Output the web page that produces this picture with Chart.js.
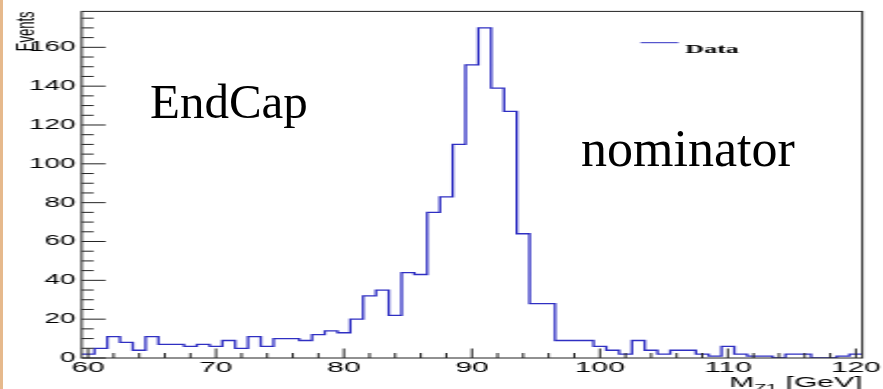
<!DOCTYPE html>
<html lang="en">
<head>
  <meta charset="UTF-8">
  <title>EndCap nominator - M_Z1</title>
  <script src="https://cdn.jsdelivr.net/npm/chart.js"></script>
  <style>
    body {
      margin: 0;
      width: 883px;
      height: 389px;
      overflow: hidden;
      background: #fff;
      position: relative;
    }
    .stripe {
      position: absolute;
      left: 0;
      top: 0;
      width: 3px;
      height: 389px;
      background: #e6b98c;
    }
    /* the original plot is a ROOT canvas stretched about 2x sideways */
    .plot-wrap {
      position: absolute;
      left: 0;
      top: 0;
      width: 442px;
      height: 389px;
      transform: scaleX(1.9977);
      transform-origin: 0 0;
    }
    .note {
      position: absolute;
      font-family: "Liberation Serif", serif;
      line-height: 1;
      color: #000;
      white-space: nowrap;
    }
  </style>
</head>
<body>
  <div class="plot-wrap">
    <canvas id="mzChart"></canvas>
  </div>
  <div class="stripe"></div>
  <div class="note" style="left:150px; top:77px; font-size:49px;">EndCap</div>
  <div class="note" style="left:581px; top:123px; font-size:52px;">nominator</div>

  <script>
    // bin centres (GeV) and entries per 1 GeV bin
    const massBins = [
      60, 61, 62, 63, 64, 65, 66, 67, 68, 69,
      70, 71, 72, 73, 74, 75, 76, 77, 78, 79,
      80, 81, 82, 83, 84, 85, 86, 87, 88, 89,
      90, 91, 92, 93, 94, 95, 96, 97, 98, 99,
      100, 101, 102, 103, 104, 105, 106, 107, 108, 109,
      110, 111, 112, 113, 114, 115, 116, 117, 118, 119,
      120
    ];
    const eventCounts = [
      2, 5, 11, 8, 4, 11, 7, 7, 6, 7,
      6, 9, 5, 11, 6, 10, 10, 9, 12, 14,
      13, 20, 32, 35, 22, 44, 43, 75, 83, 110,
      151, 170, 139, 127, 64, 28, 28, 9, 9, 9,
      6, 4, 2, 9, 4, 2, 4, 4, 2, 1,
      6, 2, 1, 1, 0, 2, 2, 0, 0, 1,
      2
    ];
    const seriesLabel = 'Data';
    const xRange = [59.5, 120.5];
    const yRange = [0, 178.5];
    const xMajor = 10, xMinor = 2;
    const yMajor = 20, yMinor = 5;
    const yTitle = 'Events';
    const xTitleParts = ['M', 'Z1', ' [GeV]']; // main, subscript, rest

    // histogram outline: one point per lower bin edge, plus the last upper edge
    const halfBin = (massBins[1] - massBins[0]) / 2;
    const histPoints = massBins.map((m, i) => ({ x: m - halfBin, y: eventCounts[i] }));
    histPoints.push({ x: massBins[massBins.length - 1] + halfBin, y: eventCounts[eventCounts.length - 1] });

    const frameColor = '#222';

    // ROOT style frame, inward tick marks, legend box and x title
    const rootFrame = {
      id: 'rootFrame',
      afterDatasetsDraw(chart) {
        const { ctx, chartArea: a, scales } = chart;
        ctx.save();
        ctx.strokeStyle = frameColor;
        ctx.lineWidth = 1;
        ctx.strokeRect(a.left, a.top, a.right - a.left, a.bottom - a.top);

        ctx.beginPath();
        scales.y.ticks.forEach(t => {
          const py = scales.y.getPixelForValue(t.value);
          const len = t.value % yMajor === 0 ? 12 : 6;
          ctx.moveTo(a.left, py);
          ctx.lineTo(a.left + len, py);
        });
        scales.x.ticks.forEach(t => {
          const px = scales.x.getPixelForValue(t.value);
          const len = t.value % xMajor === 0 ? 9.5 : 5;
          ctx.moveTo(px, a.bottom);
          ctx.lineTo(px, a.bottom - len);
        });
        ctx.stroke();

        // legend entry
        const ds = chart.data.datasets[0];
        ctx.strokeStyle = ds.borderColor;
        ctx.lineWidth = 1;
        ctx.beginPath();
        ctx.moveTo(a.right - 111, 42.7);
        ctx.lineTo(a.right - 92, 42.7);
        ctx.stroke();
        ctx.fillStyle = '#000';
        ctx.font = 'bold 13px "Liberation Serif"';
        ctx.textBaseline = 'alphabetic';
        ctx.textAlign = 'left';
        ctx.fillText(ds.label, a.right - 88.5, 53);

        // x axis title with subscript, right aligned to the frame
        const mainFont = '15px "Liberation Sans"';
        const subFont = '10px "Liberation Sans"';
        ctx.font = mainFont;
        const w0 = ctx.measureText(xTitleParts[0]).width;
        const w2 = ctx.measureText(xTitleParts[2]).width;
        ctx.font = subFont;
        const w1 = ctx.measureText(xTitleParts[1]).width;
        let tx = a.right - (w0 + w1 + w2);
        const base = 387;
        ctx.font = mainFont;
        ctx.fillText(xTitleParts[0], tx, base);
        tx += w0;
        ctx.font = subFont;
        ctx.fillText(xTitleParts[1], tx, base + 5);
        tx += w1;
        ctx.font = mainFont;
        ctx.fillText(xTitleParts[2], tx, base);
        ctx.restore();
      }
    };

    const ctx = document.getElementById('mzChart').getContext('2d');
    new Chart(ctx, {
      type: 'line',
      data: {
        datasets: [{
          label: seriesLabel,
          data: histPoints,
          // 'before' draws the flat part at the previous point's height
          stepped: 'before',
          borderColor: '#2f2fc2',
          borderWidth: 1.3,
          pointRadius: 0,
          fill: false
        }]
      },
      options: {
        responsive: true,
        maintainAspectRatio: false,
        animation: false,
        devicePixelRatio: 1,
        layout: { padding: { left: 0, top: 11, right: 10.35, bottom: 0 } },
        plugins: {
          legend: { display: false },
          tooltip: { enabled: false }
        },
        scales: {
          x: {
            type: 'linear',
            min: xRange[0],
            max: xRange[1],
            grid: { display: false, drawTicks: false },
            border: { display: false },
            ticks: {
              stepSize: xMinor,
              includeBounds: false,
              autoSkip: false,
              maxRotation: 0,
              padding: 1,
              color: '#000',
              font: { family: 'Liberation Sans', size: 15 },
              callback: v => (v % xMajor === 0 ? String(v) : '')
            },
            afterFit: s => { s.height = 31; }
          },
          y: {
            min: yRange[0],
            max: yRange[1],
            grid: { display: false, drawTicks: false },
            border: { display: false },
            ticks: {
              stepSize: yMinor,
              includeBounds: false,
              autoSkip: false,
              padding: 3,
              color: '#000',
              font: { family: 'Liberation Sans', size: 14 },
              callback: v => (v % yMajor === 0 ? String(v) : '')
            },
            title: {
              display: true,
              text: yTitle,
              align: 'end',
              color: '#000',
              padding: { top: 6, bottom: 0 },
              font: { family: 'Liberation Sans', size: 13 }
            },
            afterFit: s => { s.width = 40.85; }
          }
        }
      },
      plugins: [rootFrame]
    });
  </script>
</body>
</html>
